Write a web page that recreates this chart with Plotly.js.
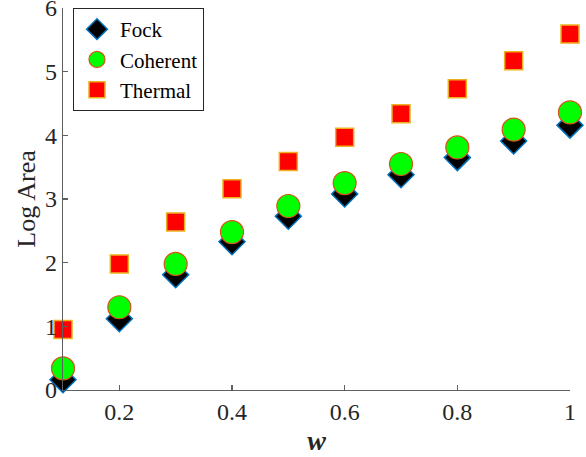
<!DOCTYPE html>
<html>
<head>
<meta charset="utf-8">
<script src="https://cdn.plot.ly/plotly-3.0.1.min.js"></script>
<style>html,body{margin:0;padding:0;background:#fff;}#chart{width:586px;height:457px;}</style>
</head>
<body>
<div id="chart"></div>
<script>
const w = [0.1, 0.2, 0.3, 0.4, 0.5, 0.6, 0.7, 0.8, 0.9, 1.0];
const fock = [0.16, 1.12, 1.81, 2.33, 2.73, 3.08, 3.38, 3.65, 3.91, 4.16];
const coherent = [0.34, 1.30, 1.98, 2.48, 2.89, 3.25, 3.55, 3.81, 4.09, 4.36];
const thermal = [0.95, 1.98, 2.64, 3.16, 3.59, 3.97, 4.34, 4.73, 5.17, 5.59];
const xTicks = [0.2, 0.4, 0.6, 0.8, 1];
const xTickText = ['0.2', '0.4', '0.6', '0.8', '1'];
const yTicks = [0, 1, 2, 3, 4, 5, 6];

const font = '"Liberation Serif", serif';
const traces = [
  {x: w, y: fock, name: 'Fock', mode: 'markers', type: 'scatter', cliponaxis: false,
   marker: {symbol: 'diamond', size: 20, color: '#000000', line: {color: '#0072BD', width: 1.5}}},
  {x: w, y: coherent, name: 'Coherent', mode: 'markers', type: 'scatter', cliponaxis: false,
   marker: {symbol: 'circle', size: 23, color: '#00FF00', line: {color: '#D95319', width: 1.2}}},
  {x: w, y: thermal, name: 'Thermal', mode: 'markers', type: 'scatter', cliponaxis: false,
   marker: {symbol: 'square', size: 18, color: '#FF0000', line: {color: '#EDB120', width: 1.5}}}
];
const axisCommon = {
  showgrid: false, zeroline: false, showline: true, linecolor: '#5f5f5f', linewidth: 1.2,
  ticks: 'inside', ticklen: 5, tickcolor: '#5f5f5f', tickwidth: 1.2, ticklabeloverflow: 'allow',
  tickfont: {family: font, size: 24, color: '#262626'}
};
const layout = {
  width: 586, height: 457,
  margin: {l: 63, r: 16, t: 8, b: 67},
  paper_bgcolor: '#fff', plot_bgcolor: '#fff',
  showlegend: true,
  legend: {x: 0.0197, y: 1.0, xanchor: 'left', yanchor: 'top', bordercolor: '#262626', borderwidth: 1,
           itemwidth: 36, bgcolor: '#fff', font: {family: font, size: 21, color: '#000'},
           traceorder: 'normal'},
  xaxis: Object.assign({}, axisCommon, {range: [0.1, 1.00001], tickvals: xTicks, ticktext: xTickText,
    title: {text: '<b><i>w</i></b>', font: {family: font, size: 28, color: '#262626'}, standoff: 6}}),
  yaxis: Object.assign({}, axisCommon, {range: [0, 6.00001], tickvals: yTicks,
    title: {text: 'Log Area', font: {family: font, size: 26, color: '#262626'}, standoff: 2}})
};
Plotly.newPlot('chart', traces, layout, {displayModeBar: false, staticPlot: true});
</script>
</body>
</html>
